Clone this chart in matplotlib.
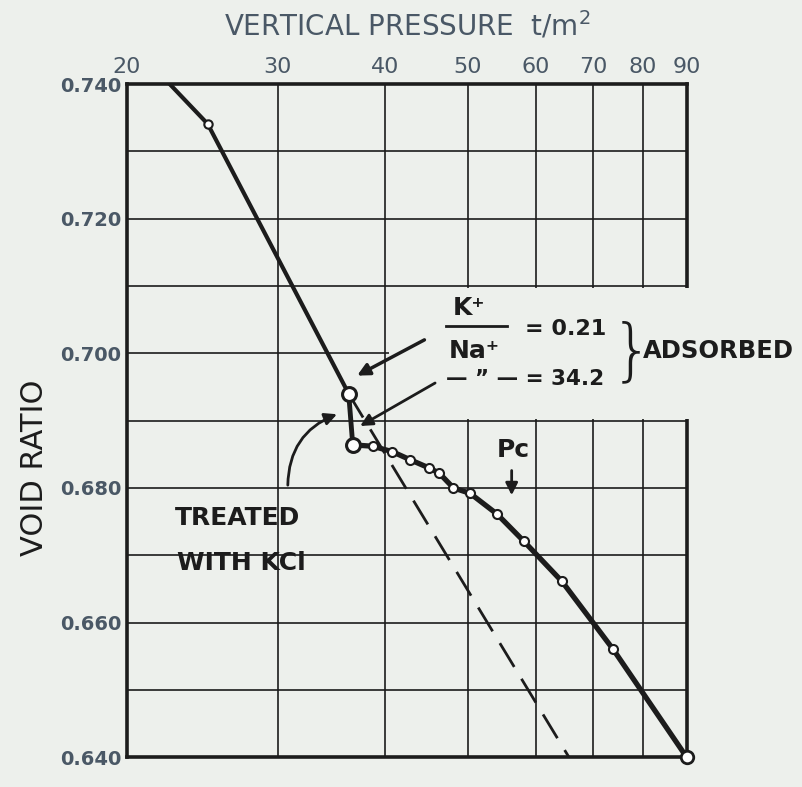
import matplotlib
matplotlib.use('Agg')
import matplotlib.pyplot as plt
from matplotlib.patches import Rectangle

# data (pressure t/m2, void ratio)
virgin_p = [22.45, 24.85, 36.3]
virgin_e = [0.740, 0.7341, 0.694]
step_p = [36.3, 36.7]
step_e = [0.694, 0.6864]
kcl_p = [36.7, 38.7, 40.8, 42.8, 45.0, 46.3, 48.1, 50.3, 54.1, 58.1, 64.4, 73.9, 90.0]
kcl_e = [0.6864, 0.6862, 0.6854, 0.6842, 0.6830, 0.6822, 0.6800, 0.6792, 0.6761,
         0.6721, 0.6661, 0.6560, 0.640]
ext_p = [36.3, 65.6]
ext_e = [0.694, 0.640]

xticks = [20, 30, 40, 50, 60, 70, 80, 90]
xgrid = [30, 40, 50, 60, 70, 80]
yticks = [0.640, 0.660, 0.680, 0.700, 0.720, 0.740]
ygrid = [0.650, 0.660, 0.670, 0.680, 0.690, 0.700, 0.710, 0.720, 0.730]

bg = '#edf0ec'
ink = '#1c1c1c'
grey = '#4a5866'

fig = plt.figure(figsize=(8.03, 7.87), dpi=100, facecolor=bg)
ax = fig.add_axes([0.158, 0.038, 0.697, 0.855], facecolor=bg)
ax.set_xscale('log')
ax.set_xlim(20, 90)
ax.set_ylim(0.640, 0.740)

for x in xgrid:
    ax.axvline(x, color=ink, lw=1.2, zorder=1)
for y in ygrid:
    ax.axhline(y, color=ink, lw=1.2, zorder=1)

# blank patch behind the annotation
ax.add_patch(Rectangle((40.4, 0.6903), 55, 0.0194, facecolor=bg, edgecolor='none',
                       zorder=2.7, clip_on=False))

for s in ax.spines.values():
    s.set_linewidth(2.6)
    s.set_color(ink)

ax.xaxis.tick_top()
ax.set_xticks(xticks)
ax.set_xticklabels([str(v) for v in xticks])
ax.minorticks_off()
ax.set_yticks(yticks)
ax.set_yticklabels(['%.3f' % v for v in yticks])
ax.tick_params(length=0, pad=5, labelsize=16, colors=grey)
ax.tick_params(axis='y', labelsize=14, pad=4)
for lab in ax.get_yticklabels():
    lab.set_fontweight('bold')

ax.set_xlabel('VERTICAL PRESSURE  t/m$^2$', fontsize=20, color=grey, labelpad=16)
ax.xaxis.set_label_position('top')
ax.set_ylabel('VOID RATIO', fontsize=22, color=ink)
ax.yaxis.set_label_coords(-0.14, 0.43)

# lines
ax.plot(ext_p, ext_e, color=ink, lw=2, dashes=(10, 5), zorder=3)
ax.plot(virgin_p, virgin_e, color=ink, lw=3, zorder=4)
ax.plot(step_p, step_e, color=ink, lw=3.5, zorder=4)
ax.plot(kcl_p, kcl_e, color=ink, lw=3.8, zorder=4)

ax.plot(virgin_p[1:2], virgin_e[1:2], 'o', ms=6, mfc='white', mec=ink, mew=1.5, zorder=5)
ax.plot(kcl_p[1:-1], kcl_e[1:-1], 'o', ms=6.5, mfc='white', mec=ink, mew=1.5, zorder=5)
ax.plot(step_p, step_e, 'o', ms=10, mfc='white', mec=ink, mew=2.2, zorder=6, clip_on=False)
ax.plot(kcl_p[-1:], kcl_e[-1:], 'o', ms=9, mfc='white', mec=ink, mew=2, zorder=6, clip_on=False)

# annotations
tk = dict(color=ink, fontweight='bold', transform=ax.transAxes, zorder=7)
ax.text(0.611, 0.668, 'K\u207A', fontsize=18, ha='center', va='center', **tk)
ax.plot([0.571, 0.680], [0.640, 0.640], color=ink, lw=2, transform=ax.transAxes,
        clip_on=False, zorder=7)
ax.text(0.621, 0.603, 'Na\u207A', fontsize=18, ha='center', va='center', **tk)
ax.text(0.712, 0.636, '= 0.21', fontsize=16, ha='left', va='center', **tk)
ax.text(0.571, 0.562, '\u2014 \u201d \u2014 = 34.2', fontsize=15.5, ha='left', va='center', **tk)
ax.text(0.902, 0.600, '}', fontsize=48, ha='center', va='center', fontweight='light',
        color=ink, transform=ax.transAxes, zorder=7)
ax.text(0.922, 0.603, 'ADSORBED', fontsize=17.5, ha='left', va='center', **tk)
ax.text(0.086, 0.355, 'TREATED', fontsize=18, ha='left', va='center', **tk)
ax.text(0.090, 0.288, 'WITH KCl', fontsize=18, ha='left', va='center', **tk)
ax.text(0.690, 0.457, 'Pc', fontsize=18, ha='center', va='center', **tk)

arr = dict(arrowstyle='-|>', color=ink, lw=2.5, mutation_scale=18)
ax.annotate('', xy=(0.407, 0.565), xytext=(0.536, 0.622), xycoords='axes fraction',
            arrowprops=arr, zorder=7)
ax.annotate('', xy=(0.4125, 0.490), xytext=(0.555, 0.558), xycoords='axes fraction',
            arrowprops=dict(arr, lw=2), zorder=7)
ax.annotate('', xy=(0.380, 0.511), xytext=(0.2875, 0.400), xycoords='axes fraction',
            arrowprops=dict(arr, lw=2, connectionstyle='arc3,rad=-0.35'), zorder=7)
ax.annotate('', xy=(0.6875, 0.385), xytext=(0.6875, 0.430), xycoords='axes fraction',
            arrowprops=dict(arr, lw=2), zorder=7)

plt.savefig('out.png', dpi=100, facecolor=bg)
